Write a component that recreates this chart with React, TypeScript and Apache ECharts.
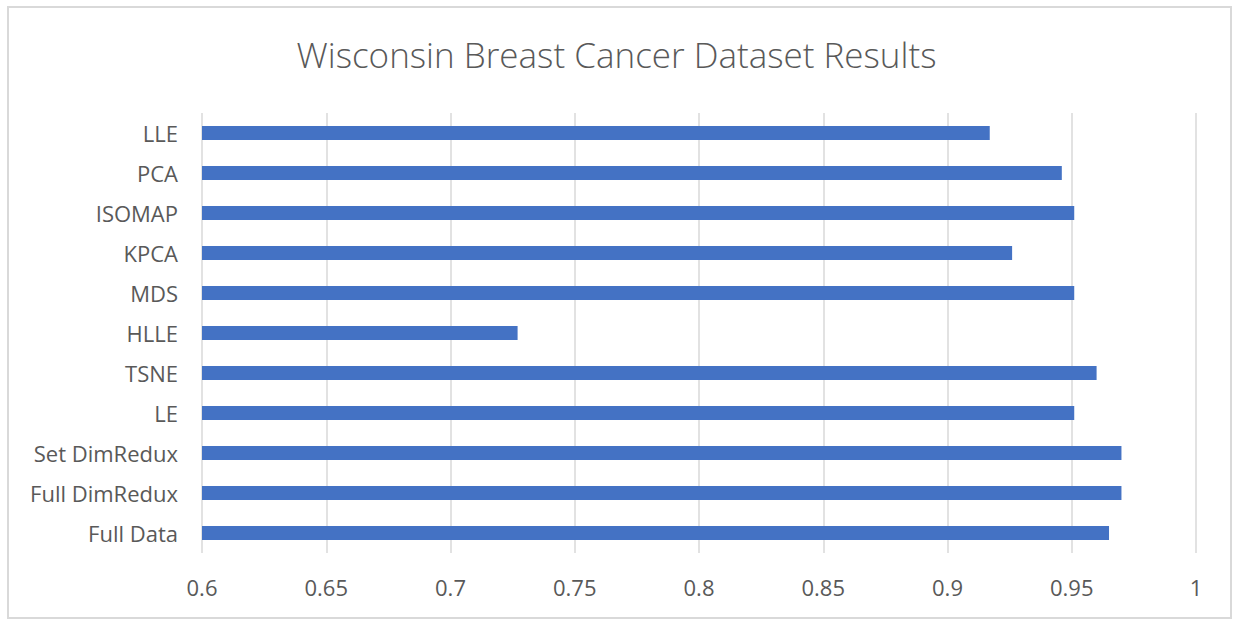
import React, { useEffect, useRef } from "react";
import * as echarts from "echarts";

const categories = [
  "LLE",
  "PCA",
  "ISOMAP",
  "KPCA",
  "MDS",
  "HLLE",
  "TSNE",
  "LE",
  "Set DimRedux",
  "Full DimRedux",
  "Full Data",
];
const scores = [0.917, 0.946, 0.951, 0.926, 0.951, 0.727, 0.96, 0.951, 0.97, 0.97, 0.965];
const xTicks = { min: 0.6, max: 1, interval: 0.05 };
const titleText = "Wisconsin Breast Cancer Dataset Results";

const FONT = "'Open Sans', 'Noto Sans', sans-serif";

export default function App() {
  const ref = useRef<HTMLDivElement>(null);
  useEffect(() => {
    document.body.style.margin = "0";
    if (!ref.current) return;
    const chart = echarts.init(ref.current, null, { renderer: "svg" });
    chart.setOption({
      animation: false,
      backgroundColor: "#ffffff",
      title: {
        text: titleText,
        left: "center",
        top: 28,
        textStyle: {
          fontFamily: FONT,
          fontSize: 35,
          fontWeight: 300,
          color: "#595959",
          lineHeight: 42,
        },
      },
      graphic: [
        {
          type: "rect",
          shape: { x: 8, y: 7, width: 1223, height: 611 },
          style: { fill: "none", stroke: "#d9d9d9", lineWidth: 2 },
          silent: true,
        },
      ],
      grid: { left: 202, right: 37, top: 113, bottom: 67 },
      xAxis: {
        type: "value",
        min: xTicks.min,
        max: xTicks.max,
        interval: xTicks.interval,
        axisLine: { show: false },
        axisTick: { show: false },
        splitLine: { show: true, lineStyle: { color: "#d9d9d9", width: 1.5 } },
        axisLabel: {
          margin: 23,
          fontFamily: FONT,
          fontSize: 22,
          color: "#595959",
          formatter: (v: number) => String(Math.round(v * 100) / 100),
        },
      },
      yAxis: {
        type: "category",
        data: categories,
        inverse: true,
        axisLine: { show: false },
        axisTick: { show: false },
        splitLine: { show: false },
        axisLabel: {
          margin: 24,
          fontFamily: FONT,
          fontSize: 22,
          color: "#595959",
        },
      },
      series: [
        {
          type: "bar",
          data: scores,
          barWidth: 14,
          itemStyle: { color: "#4472C4" },
        },
      ],
    });
    return () => chart.dispose();
  }, []);
  return <div ref={ref} style={{ width: 1233, height: 620 }} />;
}
